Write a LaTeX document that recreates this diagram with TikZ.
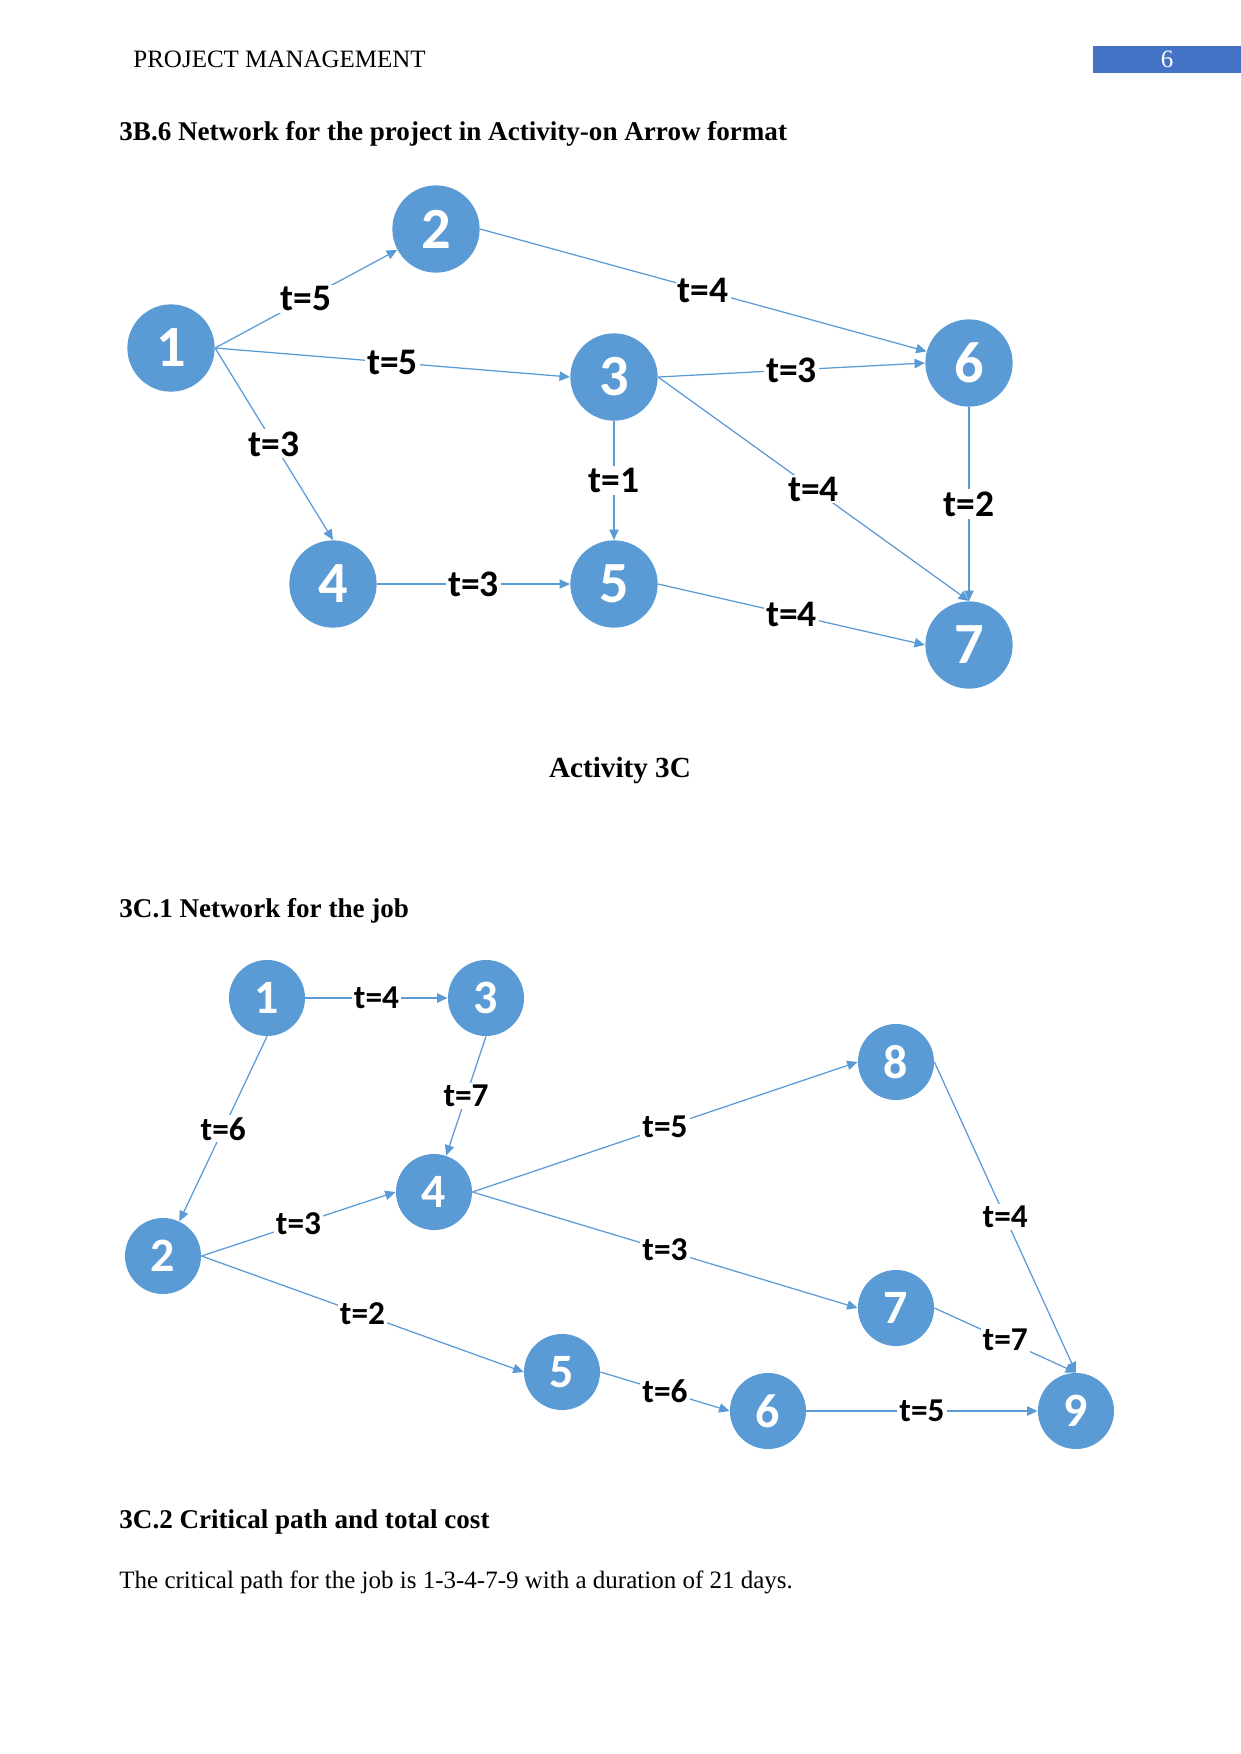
\documentclass[tikz,border=0pt]{standalone}
\usepackage{fontspec}
\setmainfont{Liberation Serif}
\newfontfamily\calfont{Carlito}
\usetikzlibrary{arrows.meta}
\definecolor{evtblue}{HTML}{5B9BD5}
\definecolor{hdrblue}{HTML}{4472C4}

\begin{document}
\begin{tikzpicture}[
  x=0.48pt, y=-0.48pt,
  font=\fontsize{12}{14}\selectfont,
  evt/.style={circle, fill=evtblue, text=white, minimum size=41.9pt,
              inner sep=0pt, font=\calfont\bfseries\fontsize{28}{28}\selectfont},
  evtsmall/.style={evt, minimum size=36.5pt,
              font=\calfont\bfseries\fontsize{23}{23}\selectfont},
  dur/.style={fill=white, inner sep=1pt,
              font=\calfont\bfseries\fontsize{18}{18}\selectfont},
  dursmall/.style={dur, font=\calfont\bfseries\fontsize{16}{16}\selectfont},
  act/.style={-{Triangle[length=5pt,width=4.5pt]}, draw=evtblue, line width=0.6pt},
  heading/.style={anchor=west, inner sep=0pt, font=\fontsize{13}{15}\selectfont\bfseries}
]
\useasboundingbox (0,0) rectangle (1241,1754);

% page header
\node[anchor=west, inner sep=0pt] (hdr) at (133,59) {PROJECT MANAGEMENT};
\node[fill=hdrblue, text=white, minimum width=71pt, minimum height=13pt,
      inner sep=0pt] (pnum) at (1167,59.5) {6};

\node[heading] (h1) at (119,134) {3B.6 Network for the project in Activity-on Arrow format};

% activity-on-arrow network
\node[evt] (a1) at (171,348) {1};
\node[evt] (a2) at (436,229) {2};
\node[evt] (a3) at (614,377) {3};
\node[evt] (a6) at (969,363) {6};
\node[evt] (a4) at (333,584) {4};
\node[evt] (a5) at (614,584) {5};
\node[evt] (a7) at (969,645) {7};

\draw[act] (a1.east) -- node[dur] {t=5} (a2);
\draw[act] (a1.east) -- node[dur] {t=5} (a3.west);
\draw[act] (a1.east) -- node[dur] {t=3} (a4.north);
\draw[act] (a2.east) -- node[dur] {t=4} (a6);
\draw[act] (a3.east) -- node[dur] {t=3} (a6.west);
\draw[act] (a3.east) -- node[dur] {t=4} (a7.north);
\draw[act] (a3.south) -- node[dur] {t=1} (a5.north);
\draw[act] (a6.south) -- node[dur] {t=2} (a7.north);
\draw[act] (a4.east) -- node[dur] {t=3} (a5.west);
\draw[act] (a5.east) -- node[dur] {t=4} (a7.west);

\node[heading, anchor=center, font=\fontsize{14}{16}\selectfont\bfseries] (h2) at (620,771) {Activity 3C};
\node[heading] (h3) at (119,911) {3C.1 Network for the job};

% network for the job
\node[evtsmall] (b1) at (267,998) {1};
\node[evtsmall] (b3) at (486,998) {3};
\node[evtsmall] (b8) at (896,1062) {8};
\node[evtsmall] (b4) at (434,1192) {4};
\node[evtsmall] (b2) at (163,1256) {2};
\node[evtsmall] (b7) at (896,1308) {7};
\node[evtsmall] (b5) at (562,1372) {5};
\node[evtsmall] (b6) at (768,1411) {6};
\node[evtsmall] (b9) at (1076,1411) {9};

\draw[act] (b1.east) -- node[dursmall] {t=4} (b3.west);
\draw[act] (b1.south) -- node[dursmall] {t=6} (b2);
\draw[act] (b3.south) -- node[dursmall] {t=7} (b4);
\draw[act] (b2.east) -- node[dursmall] {t=3} (b4.west);
\draw[act] (b4.east) -- node[dursmall] {t=5} (b8.west);
\draw[act] (b4.east) -- node[dursmall] {t=3} (b7.west);
\draw[act] (b2.east) -- node[dursmall] {t=2} (b5.west);
\draw[act] (b5.east) -- node[dursmall] {t=6} (b6.west);
\draw[act] (b6.east) -- node[dursmall] {t=5} (b9.west);
\draw[act] (b8.east) -- node[dursmall] {t=4} (b9.north);
\draw[act] (b7.east) -- node[dursmall] {t=7} (b9.north);

\node[heading] (h4) at (119,1522) {3C.2 Critical path and total cost};
\node[anchor=west, inner sep=0pt] (txt) at (119,1582)
  {The critical path for the job is 1-3-4-7-9 with a duration of 21 days.};
\end{tikzpicture}
\end{document}
